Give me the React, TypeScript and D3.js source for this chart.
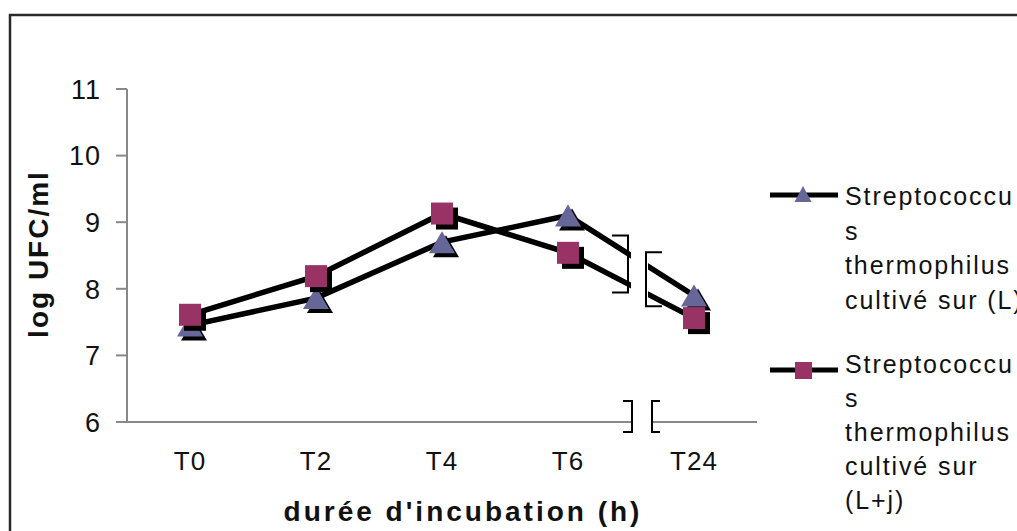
import React from "react";
import * as d3 from "d3";

const categories = ["T0", "T2", "T4", "T6", "T24"];
const seriesL = [7.45, 7.86, 8.7, 9.1, 7.9];
const seriesLj = [7.61, 8.19, 9.13, 8.54, 7.56];
const yTicks = [6, 7, 8, 9, 10, 11];
const legendL = ["Streptococcu", "s", "thermophilus", "cultivé sur (L)"];
const legendLj = ["Streptococcu", "s", "thermophilus", "cultivé sur", "(L+j)"];

const W = 1017;
const H = 531;
const FONT = "'Liberation Sans', Arial, sans-serif";
const TRI = "#666699";
const SQ = "#993366";

// break between T6 and T24
const gapFrom = 631;
const gapTo = 648;

const App = () => {
  const x = d3.scaleBand().domain(categories).range([127, 757]);
  const cx = (c) => x(c) + x.bandwidth() / 2;
  const y = d3.scaleLinear().domain([6, 11]).range([422, 89]);

  const line = d3
    .line()
    .x((d, i) => cx(categories[i]))
    .y((d) => y(d));

  const interp = (vals, px) => {
    const x0 = cx("T6");
    const x1 = cx("T24");
    const t = (px - x0) / (x1 - x0);
    return y(vals[3]) + t * (y(vals[4]) - y(vals[3]));
  };
  const leftYs = [interp(seriesL, gapFrom), interp(seriesLj, gapFrom)];
  const rightYs = [interp(seriesL, gapTo), interp(seriesLj, gapTo)];

  const tri = (px, py, w, h) =>
    `M${px},${py - h / 2}L${px + w / 2},${py + h / 2}L${px - w / 2},${py + h / 2}Z`;

  const axisY = y(6);

  return (
    <svg
      width={W}
      height={H}
      style={{ position: "absolute", left: 0, top: 0, background: "#fff" }}
    >
      <defs>
        <clipPath id="brk">
          <rect x={0} y={0} width={gapFrom} height={H} />
          <rect x={gapTo} y={0} width={W - gapTo} height={H} />
        </clipPath>
      </defs>
      <rect x={10} y={15} width={W + 20} height={H + 20} fill="#fff" stroke="#2a2a2a" strokeWidth={2.5} />

      {/* y axis */}
      <line x1={127} x2={127} y1={y(11)} y2={axisY} stroke="#888" strokeWidth={2} />
      {yTicks.map((t) => (
        <g key={t}>
          <line x1={116} x2={127} y1={y(t)} y2={y(t)} stroke="#888" strokeWidth={2} />
          <text
            x={101}
            y={y(t)}
            dy="0.36em"
            textAnchor="end"
            fontFamily={FONT}
            fontSize={27}
            letterSpacing={1}
            fill="#111"
          >
            {t}
          </text>
        </g>
      ))}

      {/* x axis with break */}
      <line x1={127} x2={632} y1={axisY} y2={axisY} stroke="#888" strokeWidth={2} />
      <line x1={652} x2={757} y1={axisY} y2={axisY} stroke="#888" strokeWidth={2} />
      <path d={`M623,${axisY - 21}H632V${axisY + 10}H623`} fill="none" stroke="#000" strokeWidth={2} />
      <path d={`M660,${axisY - 21}H652V${axisY + 10}H660`} fill="none" stroke="#000" strokeWidth={2} />
      {categories.map((c) => (
        <text
          key={c}
          x={cx(c)}
          y={470}
          textAnchor="middle"
          fontFamily={FONT}
          fontSize={26}
          letterSpacing={1}
          fill="#111"
        >
          {c}
        </text>
      ))}

      {/* series lines */}
      <g clipPath="url(#brk)">
        <path d={line(seriesL)} fill="none" stroke="#000" strokeWidth={5.5} />
        <path d={line(seriesLj)} fill="none" stroke="#000" strokeWidth={5.5} />
      </g>
      <path
        d={`M612,${d3.min(leftYs) - 20}H628V${d3.max(leftYs) + 7}H612`}
        fill="none"
        stroke="#000"
        strokeWidth={2}
      />
      <path
        d={`M662,${d3.min(rightYs) - 14}H646V${d3.max(rightYs) + 12}H662`}
        fill="none"
        stroke="#000"
        strokeWidth={2}
      />

      {/* markers */}
      {seriesL.map((v, i) => (
        <g key={"t" + i}>
          <path d={tri(cx(categories[i]) + 4, y(v) + 4, 26, 22)} fill="#000" />
          <path d={tri(cx(categories[i]), y(v), 26, 22)} fill={TRI} />
        </g>
      ))}
      {seriesLj.map((v, i) => (
        <g key={"s" + i}>
          <rect x={cx(categories[i]) - 11 + 5} y={y(v) - 11 + 5} width={22} height={22} fill="#000" />
          <rect x={cx(categories[i]) - 11} y={y(v) - 11} width={22} height={22} fill={SQ} />
        </g>
      ))}

      {/* axis titles */}
      <text
        transform="translate(48,254) rotate(-90)"
        textAnchor="middle"
        fontFamily={FONT}
        fontSize={28}
        fontWeight="bold"
        letterSpacing={2}
        fill="#111"
      >
        log UFC/ml
      </text>
      <text
        x={463}
        y={521}
        textAnchor="middle"
        fontFamily={FONT}
        fontSize={28}
        fontWeight="bold"
        letterSpacing={3}
        fill="#111"
      >
        durée d'incubation (h)
      </text>

      {/* legend */}
      <g>
        <line x1={770} x2={838} y1={195} y2={195} stroke="#000" strokeWidth={5} />
        <path d={tri(803, 194, 17, 16)} fill={TRI} />
        <text fontFamily={FONT} fontSize={25} letterSpacing={1.9} fill="#111">
          {legendL.map((s, i) => (
            <tspan key={i} x={845} y={205 + i * 34.5}>
              {s}
            </tspan>
          ))}
        </text>
        <line x1={770} x2={838} y1={370} y2={370} stroke="#000" strokeWidth={5} />
        <rect x={795} y={362} width={17} height={17} fill={SQ} />
        <text fontFamily={FONT} fontSize={25} letterSpacing={1.9} fill="#111">
          {legendLj.map((s, i) => (
            <tspan key={i} x={845} y={373 + i * 34}>
              {s}
            </tspan>
          ))}
        </text>
      </g>
    </svg>
  );
};

export default App;
